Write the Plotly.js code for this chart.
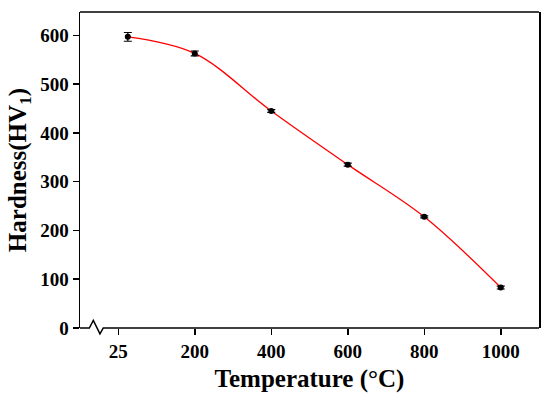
<!DOCTYPE html>
<html>
<head>
<meta charset="utf-8">
<script src="https://cdn.plot.ly/plotly-3.0.1.min.js"></script>
<style>html,body{margin:0;padding:0;background:#fff;}#chart{width:550px;height:400px;}</style>
</head>
<body>
<div id="chart"></div>
<script>
// Data
const temperature = [25, 200, 400, 600, 800, 1000];
const hardness = [597, 563, 445, 335, 228, 83];
const hardnessErr = [9, 5, 3, 3, 2, 3];
const xTickValues = [0, 200, 400, 600, 800, 1000];
const xTickLabels = ['25', '200', '400', '600', '800', '1000'];
const yTickValues = [0, 100, 200, 300, 400, 500, 600];
const yTickLabels = ['0', '100', '200', '300', '400', '500', '600'];

const fontFam = '"Liberation Serif", "Times New Roman", serif';
const bold = s => '<b>' + s + '</b>';

const curve = {
  x: temperature, y: hardness, type: 'scatter', mode: 'lines',
  line: {shape: 'spline', smoothing: 1.0, color: '#ff0000', width: 1.3},
  hoverinfo: 'skip', showlegend: false
};
const pts = {
  x: temperature, y: hardness, type: 'scatter', mode: 'markers',
  marker: {color: '#000', size: 6},
  error_y: {type: 'data', array: hardnessErr, visible: true, color: '#000', thickness: 1.2, width: 4},
  showlegend: false
};

const layout = {
  width: 550, height: 400,
  margin: {l: 80, r: 11, t: 12, b: 72},
  paper_bgcolor: '#fff', plot_bgcolor: '#fff',
  font: {family: fontFam, color: '#000'},
  xaxis: {
    range: [-100, 1100], tickvals: xTickValues, ticktext: xTickLabels.map(bold),
    showline: false, showgrid: false, zeroline: false,
    ticks: 'outside', ticklen: 6, tickwidth: 1.5, tickcolor: '#000',
    tickfont: {family: fontFam, size: 19, color: '#000'},
    title: {text: '<b>Temperature (°C)</b>', font: {family: fontFam, size: 25, color: '#000'}, standoff: 8}
  },
  yaxis: {
    range: [0, 648], tickvals: yTickValues, ticktext: yTickLabels.map(bold),
    showline: true, mirror: true, linewidth: 1.5, linecolor: '#000',
    showgrid: false, zeroline: false,
    ticks: 'outside', ticklen: 6, tickwidth: 1.5, tickcolor: '#000',
    tickfont: {family: fontFam, size: 19, color: '#000'},
    title: {text: '<b>Hardness(HV<sub>1</sub>)</b>', font: {family: fontFam, size: 25, color: '#000'}, standoff: 6}
  },
  shapes: [
    {type: 'line', xref: 'paper', yref: 'paper', x0: 0, x1: 1, y0: 1, y1: 1,
     line: {color: '#000', width: 1.5}},
    {type: 'path', xref: 'paper', yref: 'paper',
     path: 'M 0,0 L 0.0203,0 L 0.0290,0.0243 L 0.0435,-0.0186 L 0.0507,0 L 1,0',
     line: {color: '#000', width: 1.5}}
  ]
};

Plotly.newPlot('chart', [curve, pts], layout, {staticPlot: true, displayModeBar: false});
</script>
</body>
</html>
